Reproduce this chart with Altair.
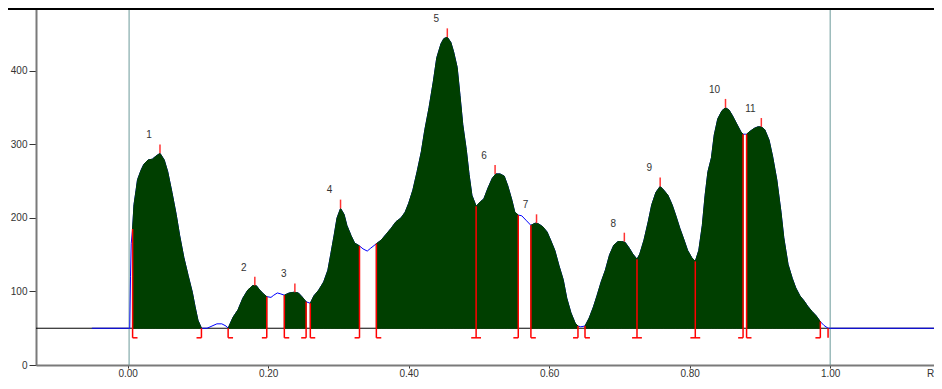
import altair as alt
import pandas as pd

# ---- signal trace (Rf, intensity) ----
rf = [-0.051, 0.003, 0.004, 0.005, 0.007, 0.009, 0.012, 0.014, 0.019, 0.023, 0.029, 0.035, 0.040, 0.046,
      0.052, 0.057, 0.063, 0.069, 0.074, 0.080, 0.086, 0.092, 0.096, 0.100, 0.105, 0.113, 0.120, 0.127,
      0.134, 0.140, 0.143, 0.150, 0.157, 0.164, 0.171, 0.178, 0.183, 0.188, 0.193, 0.198, 0.204, 0.208,
      0.213, 0.217, 0.223, 0.230, 0.237, 0.243, 0.248, 0.254, 0.260, 0.265, 0.272, 0.279, 0.285, 0.289,
      0.294, 0.298, 0.303, 0.308, 0.312, 0.318, 0.323, 0.330, 0.335, 0.341, 0.346, 0.354, 0.361, 0.368,
      0.375, 0.382, 0.389, 0.395, 0.400, 0.406, 0.412, 0.418, 0.423, 0.429, 0.435, 0.440, 0.446, 0.450,
      0.455, 0.460, 0.464, 0.469, 0.473, 0.477, 0.482, 0.486, 0.490, 0.496, 0.502, 0.507, 0.513, 0.519,
      0.524, 0.530, 0.536, 0.541, 0.547, 0.551, 0.556, 0.561, 0.567, 0.574, 0.580, 0.585, 0.591, 0.597,
      0.602, 0.608, 0.614, 0.620, 0.625, 0.631, 0.637, 0.641, 0.645, 0.651, 0.657, 0.663, 0.668, 0.674,
      0.680, 0.686, 0.692, 0.698, 0.703, 0.708, 0.714, 0.719, 0.725, 0.729, 0.735, 0.741, 0.746, 0.752,
      0.758, 0.763, 0.769, 0.775, 0.780, 0.786, 0.792, 0.797, 0.803, 0.808, 0.813, 0.818, 0.822, 0.826,
      0.831, 0.835, 0.840, 0.846, 0.851, 0.856, 0.861, 0.867, 0.873, 0.876, 0.879, 0.881, 0.886, 0.892,
      0.897, 0.902, 0.907, 0.913, 0.918, 0.924, 0.930, 0.934, 0.940, 0.946, 0.951, 0.957, 0.963, 0.968,
      0.974, 0.980, 0.986, 0.991, 0.997, 1.148]
signal = [50, 50, 120, 165, 185, 218, 238, 252, 265, 273, 279, 280, 284, 288,
          279, 263, 235, 205, 176, 146, 122, 99, 79, 61, 50, 50, 53, 56,
          56, 53, 50, 65, 75, 91, 102, 108, 108, 102, 97, 93, 92, 95,
          98, 97, 95, 98, 99, 98, 93, 86, 84, 94, 102, 113, 129, 150,
          177, 200, 213, 205, 190, 176, 166, 162, 158, 155, 159, 165, 170, 178,
          186, 195, 200, 208, 220, 238, 263, 290, 320, 350, 385, 418, 437, 444,
          446, 439, 426, 405, 367, 327, 293, 259, 231, 216, 222, 226, 241, 254,
          260, 260, 257, 244, 224, 208, 204, 203, 197, 190, 193, 192, 188, 181,
          170, 156, 135, 116, 91, 71, 57, 53, 52, 53, 64, 79, 94, 113,
          129, 150, 163, 168, 168, 167, 159, 151, 144, 151, 170, 195, 218, 235,
          243, 238, 231, 218, 204, 186, 170, 156, 146, 141, 156, 190, 231, 263,
          282, 313, 335, 346, 350, 347, 339, 328, 317, 314, 314, 314, 318, 322,
          324, 324, 320, 306, 284, 252, 208, 173, 137, 118, 105, 94, 87, 80,
          73, 67, 59, 54, 50, 50]

# ---- peak boundaries ----
bound_rf = [0.007, 0.105, 0.143, 0.198, 0.223, 0.254, 0.260, 0.330, 0.354, 0.496,
            0.556, 0.574, 0.641, 0.651, 0.725, 0.808, 0.876, 0.881, 0.986, 0.997]
bound_val = [185, 50, 50, 93, 95, 86, 84, 162, 165, 216,
             204, 190, 53, 53, 144, 141, 314, 314, 59, 50]
bound_kind = ["R", "L", "R", "L", "R", "L", "R", "L", "R", "B",
              "L", "R", "L", "R", "B", "B", "L", "R", "L", "N"]

# ---- peak maxima ----
peak_rf = [0.046, 0.181, 0.238, 0.303, 0.455, 0.523, 0.582, 0.707, 0.758, 0.851, 0.902]
peak_val = [288, 108, 99, 213, 446, 260, 193, 168, 243, 350, 324]
peak_label = ["1", "2", "3", "4", "5", "6", "7", "8", "9", "10", "11"]

x_ticks = [0.0, 0.2, 0.4, 0.6, 0.8, 1.0]
y_ticks = [0, 100, 200, 300, 400]

BASE = 50
FOOT = 37
XMIN, XMAX = -0.1305, 1.1478
YMAX = 485.7
W, H = 898, 357

sig = pd.DataFrame({"rf": rf, "v": signal})

# filled segments between boundaries
segs = []
start = None
for r, k in zip(bound_rf, bound_kind):
    if k in ("L", "B") and start is not None:
        segs.append((start, r))
        start = None
    if k in ("R", "B"):
        start = r
rows = []
for i, (a, b) in enumerate(segs):
    part = sig[(sig.rf >= a - 1e-9) & (sig.rf <= b + 1e-9)].copy()
    part["seg"] = i
    rows.append(part)
area_df = pd.concat(rows, ignore_index=True)

bdf = pd.DataFrame({"rf": bound_rf, "v": bound_val, "kind": bound_kind})
feet = []
for r, k in zip(bound_rf, bound_kind):
    if k == "R":
        feet.append((r, r + 0.007))
    elif k == "L":
        feet.append((r - 0.007, r))
    elif k == "B":
        feet.append((r - 0.007, r + 0.007))
feet_df = pd.DataFrame(feet, columns=["a", "b"])

pk = pd.DataFrame({"rf": peak_rf, "v": peak_val, "lab": peak_label})
pk["top"] = pk["v"] + 12

xs = alt.Scale(domain=[XMIN, XMAX], nice=False, zero=False)
ys = alt.Scale(domain=[0, YMAX], nice=False, zero=True)

x_axis = alt.Axis(values=x_ticks, format=".2f", grid=False, title="R",
                  titleX=894, titleY=3, titleAlign="center", titleBaseline="top",
                  titleFontWeight="normal", titleFontSize=10, titleColor="#333333",
                  tickSize=3, labelPadding=0, domainColor="#7a7a7a", domainWidth=2,
                  tickColor="#333333", labelColor="#333333", labelFontSize=10)
y_axis = alt.Axis(values=y_ticks, grid=False, title=None, tickSize=7, labelPadding=2,
                  domainColor="#7a7a7a", domainWidth=2, tickColor="#333333",
                  labelColor="#333333", labelFontSize=10)

base_line = alt.Chart(pd.DataFrame({"a": [XMIN], "b": [XMAX], "y": [BASE]})).mark_rule(
    color="black", strokeWidth=1).encode(
    x=alt.X("a:Q", scale=xs, axis=x_axis), x2="b:Q",
    y=alt.Y("y:Q", scale=ys, axis=y_axis))

markers = alt.Chart(pd.DataFrame({"rf": [0.002, 1.0]})).mark_rule(
    color="#6b9999", strokeWidth=1).encode(x="rf:Q")

line = alt.Chart(sig).mark_line(color="#0000ff", strokeWidth=1).encode(
    x="rf:Q", y="v:Q")

area = alt.Chart(area_df).mark_area(color="#003f00", stroke="#003f00", strokeWidth=1).encode(
    x="rf:Q", y="v:Q", y2=alt.datum(BASE), detail="seg:N")

brules = alt.Chart(bdf).mark_rule(color="#ff0000", strokeWidth=1.5).encode(
    x="rf:Q", y="v:Q", y2=alt.datum(FOOT))

frules = alt.Chart(feet_df).mark_rule(color="#ff0000", strokeWidth=1.5).encode(
    x="a:Q", x2="b:Q", y=alt.datum(FOOT))

ticks = alt.Chart(pk).mark_rule(color="#ff3333", strokeWidth=1.5).encode(
    x="rf:Q", y="v:Q", y2="top:Q")

labels = alt.Chart(pk).mark_text(dx=-11, dy=-18, fontSize=10, color="#333333",
                                 font="Liberation Sans").encode(
    x="rf:Q", y="v:Q", text="lab:N")

top_border = alt.Chart(pd.DataFrame({"y": [YMAX]})).mark_rule(
    color="black", strokeWidth=2).encode(
    y=alt.value(1), x=alt.value(-28), x2=alt.value(W))

chart = alt.layer(
    base_line, markers, line, area, brules, frules, ticks, labels, top_border
).properties(
    width=W, height=H,
    autosize=alt.AutoSizeParams(type="none"),
    padding={"left": 28, "top": 0, "right": 0, "bottom": 13}
).configure_view(stroke=None).configure(font="Liberation Sans")

chart.save("out.html", embed_options={"renderer": "svg", "actions": False})
